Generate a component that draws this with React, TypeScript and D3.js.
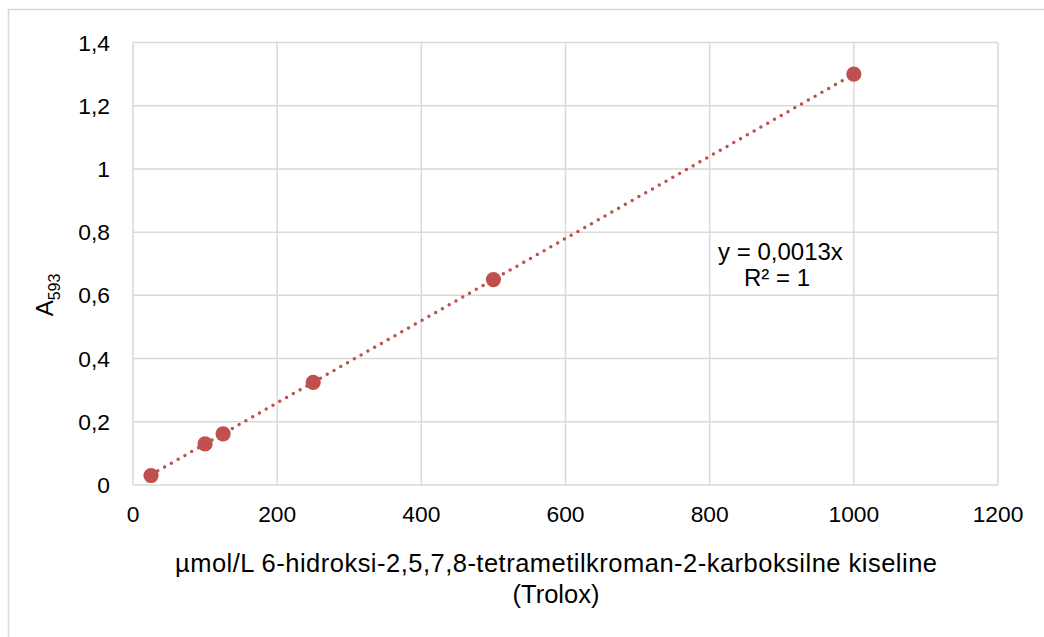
import React from "react";
import * as d3 from "d3";

const xValues = [25, 100, 125, 250, 500, 1000];
const yValues = [0.03, 0.13, 0.162, 0.325, 0.65, 1.3];
const xTicks = [0, 200, 400, 600, 800, 1000, 1200];
const yTicks = [0, 0.2, 0.4, 0.6, 0.8, 1, 1.2, 1.4];
const slope = 0.0013;
const xTitle1 = "µmol/L 6-hidroksi-2,5,7,8-tetrametilkroman-2-karboksilne kiseline";
const xTitle2 = "(Trolox)";
const eqText = "y = 0,0013x";
const r2Text = "R² = 1";

const W = 1044;
const H = 637;
const left = 133;
const right = 998;
const top = 42.5;
const bottom = 485;
const color = "#C0504D";
const font = "'Liberation Sans', Arial, sans-serif";
const fs = 22.8;

const fmt = (v: number) => String(v).replace(".", ",");

export default function App() {
  const x = d3.scaleLinear().domain([0, 1200]).range([left, right]);
  const y = d3.scaleLinear().domain([0, 1.4]).range([bottom, top]);
  const xMin = d3.min(xValues) as number;
  const xMax = d3.max(xValues) as number;
  const line = d3
    .line<number>()
    .x((d) => x(d))
    .y((d) => y(slope * d));
  return (
    <svg
      width={W}
      height={H}
      style={{ position: "absolute", left: 0, top: 0 }}
      fontFamily={font}
    >
      <rect x={0} y={0} width={W} height={H} fill="#fff" />
      <rect x={8.5} y={9.5} width={W + 20} height={H + 20} fill="#fff" stroke="#d9d9d9" strokeWidth={1.5} />
      {xTicks.map((t) => (
        <line key={"gx" + t} x1={x(t)} x2={x(t)} y1={top} y2={bottom} stroke="#d9d9d9" strokeWidth={1.5} />
      ))}
      {yTicks.map((t) => (
        <line key={"gy" + t} x1={left} x2={right} y1={y(t)} y2={y(t)} stroke="#d9d9d9" strokeWidth={1.5} />
      ))}
      {xTicks.map((t) => (
        <text key={"tx" + t} x={x(t)} y={bottom + 37} textAnchor="middle" fontSize={fs} fill="#000">
          {t}
        </text>
      ))}
      {yTicks.map((t) => (
        <text key={"ty" + t} x={110} y={y(t) + 8} textAnchor="end" fontSize={fs} fill="#000">
          {fmt(t)}
        </text>
      ))}
      <path
        d={line([xMin, xMax]) as string}
        fill="none"
        stroke={color}
        strokeWidth={3.5}
        strokeDasharray="0 7.8"
        strokeLinecap="round"
      />
      {xValues.map((v, i) => (
        <circle key={"p" + i} cx={x(v)} cy={y(yValues[i])} r={7.6} fill={color} />
      ))}
      <text x={780.5} y={260} textAnchor="middle" fontSize={24} fill="#000">
        {eqText}
      </text>
      <text x={777} y={286} textAnchor="middle" fontSize={24} fill="#000">
        {r2Text}
      </text>
      <text x={556} y={572} textAnchor="middle" fontSize={25.5} textLength={762} lengthAdjust="spacing" fill="#000">
        {xTitle1}
      </text>
      <text x={556} y={603} textAnchor="middle" fontSize={25.5} fill="#000">
        {xTitle2}
      </text>
      <text transform="translate(53,295) rotate(-90)" textAnchor="middle" fontSize={24} fill="#000">
        A<tspan fontSize={16} dy={7}>593</tspan>
      </text>
    </svg>
  );
}
